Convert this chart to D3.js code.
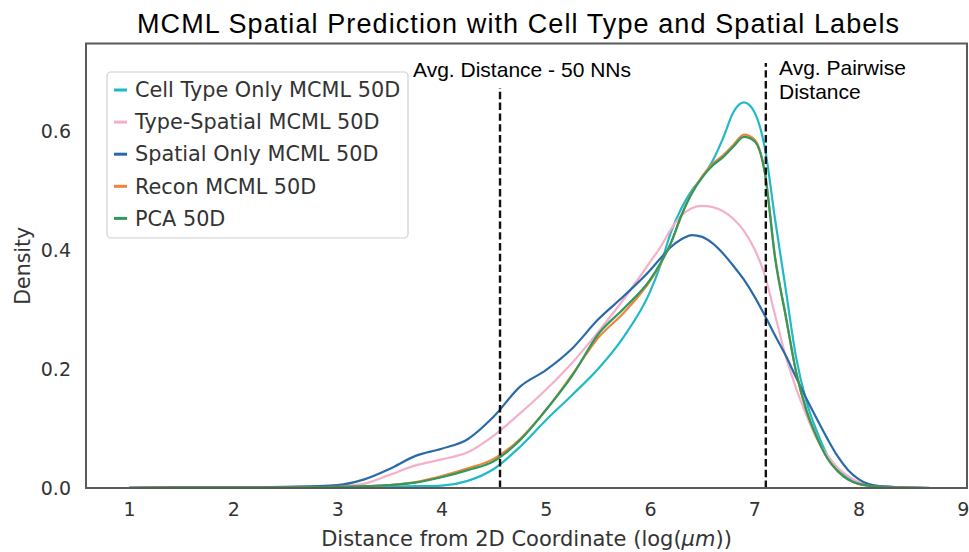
<!DOCTYPE html>
<html>
<head>
<meta charset="utf-8">
<script src="https://cdn.jsdelivr.net/npm/d3@7"></script>
<style>
  body { margin: 0; background: #fff; }
  svg { display: block; }
</style>
</head>
<body>
<script>
// grid of distances (log um) the densities were read at
const xs = [1.0, 1.5, 2.0, 2.5, 3.0, 3.25, 3.5, 3.75, 4.0, 4.25, 4.5, 4.75, 5.0, 5.25, 5.5, 5.75,
  6.0, 6.1, 6.2, 6.3, 6.4, 6.5, 6.6, 6.7, 6.8, 6.9, 7.0, 7.1, 7.2, 7.3, 7.4, 7.5, 7.6, 7.7, 7.8, 7.9,
  8.0, 8.2, 8.4, 8.7];

const cellTypeOnly = [0, 0, 0.0005, 0.001, 0.001, 0.001, 0.002, 0.003, 0.004, 0.012, 0.032, 0.069, 0.114, 0.156, 0.2, 0.255,
  0.33, 0.375, 0.43, 0.47, 0.5, 0.522, 0.55, 0.588, 0.632, 0.648, 0.632, 0.572, 0.45, 0.335, 0.22, 0.145, 0.095, 0.055, 0.032, 0.017,
  0.009, 0.003, 0.001, 0];
const typeSpatial = [0, 0.001, 0.001, 0.001, 0.003, 0.007, 0.022, 0.038, 0.048, 0.06, 0.088, 0.125, 0.165, 0.21, 0.262, 0.318,
  0.38, 0.405, 0.435, 0.458, 0.47, 0.474, 0.472, 0.465, 0.452, 0.432, 0.402, 0.358, 0.29, 0.222, 0.168, 0.122, 0.082, 0.055, 0.034, 0.02,
  0.01, 0.003, 0.001, 0];
const spatialOnly = [0.0005, 0.001, 0.001, 0.002, 0.005, 0.014, 0.032, 0.054, 0.066, 0.082, 0.12, 0.17, 0.198, 0.234, 0.283, 0.323,
  0.366, 0.386, 0.405, 0.418, 0.425, 0.422, 0.411, 0.394, 0.373, 0.35, 0.322, 0.29, 0.256, 0.223, 0.186, 0.15, 0.116, 0.083, 0.053, 0.03,
  0.015, 0.003, 0.001, 0];
const recon = [0, 0.001, 0.001, 0.001, 0.002, 0.003, 0.005, 0.01, 0.02, 0.033, 0.049, 0.082, 0.131, 0.19, 0.252, 0.295,
  0.348, 0.377, 0.412, 0.458, 0.496, 0.524, 0.545, 0.559, 0.577, 0.594, 0.586, 0.532, 0.387, 0.29, 0.196, 0.13, 0.085, 0.05, 0.028, 0.014,
  0.007, 0.002, 0.0005, 0];
const pca = [0, 0.001, 0.001, 0.001, 0.002, 0.003, 0.005, 0.009, 0.018, 0.03, 0.045, 0.08, 0.131, 0.188, 0.258, 0.302,
  0.35, 0.378, 0.412, 0.458, 0.495, 0.522, 0.542, 0.556, 0.574, 0.59, 0.583, 0.53, 0.385, 0.29, 0.195, 0.13, 0.085, 0.05, 0.028, 0.014,
  0.007, 0.002, 0.0005, 0];

const seriesNames = ['Cell Type Only MCML 50D', 'Type-Spatial MCML 50D', 'Spatial Only MCML 50D', 'Recon MCML 50D', 'PCA 50D'];
const seriesValues = [cellTypeOnly, typeSpatial, spatialOnly, recon, pca];
const seriesColors = ['#22b8c8', '#f4b0c8', '#2a6aa8', '#f0843a', '#2f9a5c'];

const xTicks = [1, 2, 3, 4, 5, 6, 7, 8, 9];
const yTicks = [0.0, 0.2, 0.4, 0.6];

// dashed reference lines: x position and how far up the axes they reach
const refLines = [{ x: 4.56, top: 0.90 }, { x: 7.11, top: 0.956 }];

const width = 969;
const height = 552;
const margin = { top: 43.5, right: 2, bottom: 64, left: 86 };

const svg = d3.select('body')
  .append('svg')
  .attr('width', width)
  .attr('height', height);

const x = d3.scaleLinear().domain([0.588, 9.04]).range([margin.left, width - margin.right]);
const y = d3.scaleLinear().domain([0, 0.747]).range([height - margin.bottom, margin.top]);

const tickFont = 'DejaVu Sans, sans-serif';

// x axis
const xAxis = svg.append('g')
  .attr('transform', `translate(0,${y(0)})`)
  .call(d3.axisBottom(x).tickValues(xTicks).tickSize(0).tickPadding(15).tickFormat(d3.format('d')));
xAxis.select('.domain').remove();
xAxis.selectAll('text').attr('font-size', 19).attr('font-family', tickFont).attr('fill', '#333');

// y axis
const yAxis = svg.append('g')
  .attr('transform', `translate(${margin.left},0)`)
  .call(d3.axisLeft(y).tickValues(yTicks).tickSize(0).tickPadding(15).tickFormat(d3.format('.1f')));
yAxis.select('.domain').remove();
yAxis.selectAll('text').attr('font-size', 19).attr('font-family', tickFont).attr('fill', '#333');

// curves
const line = d3.line()
  .x((d, i) => x(xs[i]))
  .y(d => y(d))
  .curve(d3.curveMonotoneX);

svg.append('g')
  .selectAll('path')
  .data(seriesValues)
  .enter()
  .append('path')
  .attr('d', line)
  .attr('fill', 'none')
  .attr('stroke', (d, i) => seriesColors[i])
  .attr('stroke-width', 2.2);

// reference lines
svg.append('g')
  .selectAll('line')
  .data(refLines)
  .enter()
  .append('line')
  .attr('x1', d => x(d.x))
  .attr('x2', d => x(d.x))
  .attr('y1', y(0))
  .attr('y2', d => y(0) - d.top * (y(0) - margin.top))
  .attr('stroke', '#111')
  .attr('stroke-width', 2.4)
  .attr('stroke-dasharray', '7.4,3.4');

// frame
svg.append('rect')
  .attr('x', margin.left)
  .attr('y', margin.top)
  .attr('width', width - margin.right - margin.left)
  .attr('height', y(0) - margin.top)
  .attr('fill', 'none')
  .attr('stroke', '#5a5a5a')
  .attr('stroke-width', 2);

// annotations
const noteFont = 'Liberation Sans, Arial, sans-serif';
svg.append('text')
  .attr('x', 413).attr('y', 77)
  .attr('font-family', noteFont).attr('font-size', 21)
  .attr('textLength', 218).attr('lengthAdjust', 'spacing')
  .text('Avg. Distance - 50 NNs');
svg.append('text')
  .attr('x', 779).attr('y', 75)
  .attr('font-family', noteFont).attr('font-size', 21)
  .text('Avg. Pairwise');
svg.append('text')
  .attr('x', 779).attr('y', 99)
  .attr('font-family', noteFont).attr('font-size', 21)
  .text('Distance');

// title
svg.append('text')
  .attr('x', 137).attr('y', 33)
  .attr('font-family', noteFont).attr('font-size', 27)
  .attr('textLength', 762).attr('lengthAdjust', 'spacing')
  .text('MCML Spatial Prediction with Cell Type and Spatial Labels');

// axis labels
svg.append('text')
  .attr('x', (margin.left + width - margin.right) / 2)
  .attr('y', 546)
  .attr('text-anchor', 'middle')
  .attr('font-family', tickFont).attr('font-size', 21).attr('fill', '#333')
  .html('Distance from 2D Coordinate (log(<tspan font-style="italic">μm</tspan>))');

svg.append('text')
  .attr('transform', `translate(30,${(margin.top + y(0)) / 2}) rotate(-90)`)
  .attr('text-anchor', 'middle')
  .attr('font-family', tickFont).attr('font-size', 20.5).attr('fill', '#333')
  .text('Density');

// legend
const legend = svg.append('g');
legend.append('rect')
  .attr('x', 107).attr('y', 72)
  .attr('width', 301).attr('height', 166)
  .attr('rx', 4)
  .attr('fill', 'rgba(255,255,255,0.85)')
  .attr('stroke', '#d0d0d0')
  .attr('stroke-width', 1.2);

const rows = legend.selectAll('g.row')
  .data(seriesNames)
  .enter()
  .append('g')
  .attr('class', 'row')
  .attr('transform', (d, i) => `translate(0,${90 + i * 32.1})`);

rows.append('line')
  .attr('x1', 114).attr('x2', 127)
  .attr('stroke', (d, i) => seriesColors[i])
  .attr('stroke-width', 3);

rows.append('text')
  .attr('x', 135)
  .attr('dy', '0.35em')
  .attr('font-family', tickFont).attr('font-size', 20.8).attr('fill', '#333')
  .text(d => d);
</script>
</body>
</html>
